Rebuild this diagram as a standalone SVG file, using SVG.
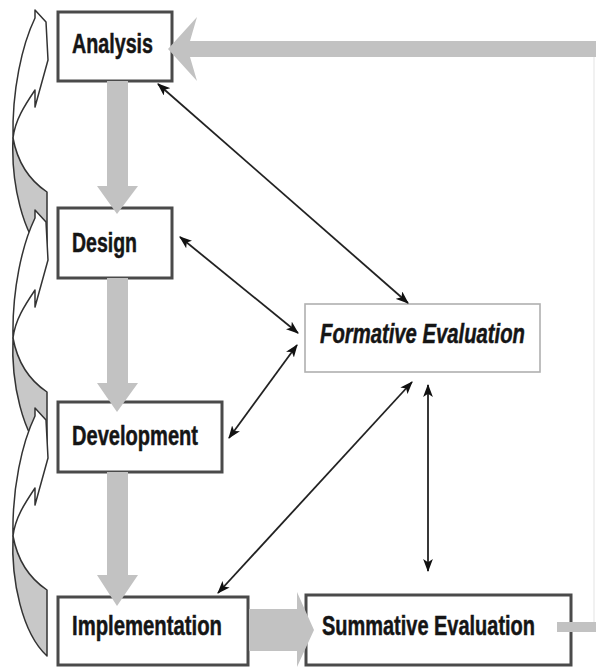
<svg xmlns="http://www.w3.org/2000/svg" width="596" height="671" viewBox="0 0 596 671">
<defs>
<style>
.box{fill:#fff;stroke:#4a4a4a;stroke-width:3}
.fbox{fill:#fff;stroke:#b0b0b0;stroke-width:1.6}
.lbl{font-family:"Liberation Sans",Arial,sans-serif;font-weight:bold;font-size:28px;fill:#151515;stroke:#151515;stroke-width:0.5}
.ital{font-style:italic}
.gray{fill:#c2c2c2}
.tw{fill:#fff;stroke:#333;stroke-width:1.5;stroke-linejoin:round}
.tg{fill:#c8c8c8;stroke:#333;stroke-width:1.5;stroke-linejoin:round}
.link{fill:none;stroke:#222;stroke-width:1.8;marker-start:url(#ah);marker-end:url(#ah)}
</style>
<marker id="ah" viewBox="0 0 12 9" refX="11" refY="4.5" markerWidth="13" markerHeight="10" markerUnits="userSpaceOnUse" orient="auto-start-reverse">
<path d="M0,0 L12,4.5 L0,9 L3,4.5 z" fill="#111"/>
</marker>
<g id="curl">
<path class="tg" d="M13,128 C11,172 22,225 47,248 L47,182 C32,172 18,155 13,128 Z"/>
<path class="tw" d="M13,128 C12,80 22,35 35,8 L35,0 L46,12 L48,50 L35,97 L35,80 C25,95 15,110 13,128 Z"/>
</g>
</defs>
<g id="loops">
<use href="#curl" transform="translate(0,10)"/>
<use href="#curl" transform="translate(0,210)"/>
<use href="#curl" transform="translate(0,408)"/>
</g>
<g id="analysis">
<rect class="box" x="58" y="12" width="114" height="69"/>
<text class="lbl" x="72" y="53" textLength="81" lengthAdjust="spacingAndGlyphs">Analysis</text>
</g>
<g id="design">
<rect class="box" x="58" y="208" width="114" height="70"/>
<text class="lbl" x="72" y="252" textLength="65" lengthAdjust="spacingAndGlyphs">Design</text>
</g>
<g id="development">
<rect class="box" x="58" y="402" width="164" height="70"/>
<text class="lbl" x="72" y="445" textLength="126" lengthAdjust="spacingAndGlyphs">Development</text>
</g>
<g id="implementation">
<rect class="box" x="58" y="597" width="190" height="68"/>
<text class="lbl" x="72" y="635" textLength="150" lengthAdjust="spacingAndGlyphs">Implementation</text>
</g>
<g id="summative">
<rect class="box" x="306" y="595" width="265" height="70"/>
<text class="lbl" x="322" y="635" textLength="213" lengthAdjust="spacingAndGlyphs">Summative Evaluation</text>
</g>
<g id="formative">
<rect class="fbox" x="305" y="304" width="235" height="68"/>
<text class="lbl ital" x="320" y="343" textLength="205" lengthAdjust="spacingAndGlyphs">Formative Evaluation</text>
</g>
<g id="connectors">
<line x1="594" y1="57" x2="594" y2="622" stroke="#ececec" stroke-width="1.5"/>
<path class="gray" d="M168,49 L197,17 L190,41 L596,41 L596,57 L190,57 L197,81 Z"/>
<path class="gray" d="M107,81 L128,81 L128,186 L138,186 L117,214 L97,186 L107,186 Z"/>
<path class="gray" d="M107,278 L128,278 L128,383 L138,383 L117,412 L97,383 L107,383 Z"/>
<path class="gray" d="M107,472 L128,472 L128,575 L138,575 L117,606 L97,575 L107,575 Z"/>
<path class="gray" d="M249,609 L297,609 L297,592 L314,630 L297,667 L297,651 L249,651 Z"/>
<rect class="gray" x="557" y="622" width="39" height="10"/>
<line class="link" x1="158" y1="84" x2="408" y2="303"/>
<line class="link" x1="180" y1="237" x2="298" y2="333"/>
<line class="link" x1="229" y1="438" x2="297" y2="345"/>
<line class="link" x1="218" y1="593" x2="412" y2="382"/>
<line class="link" x1="428" y1="385" x2="428" y2="571"/>
</g>
</svg>
